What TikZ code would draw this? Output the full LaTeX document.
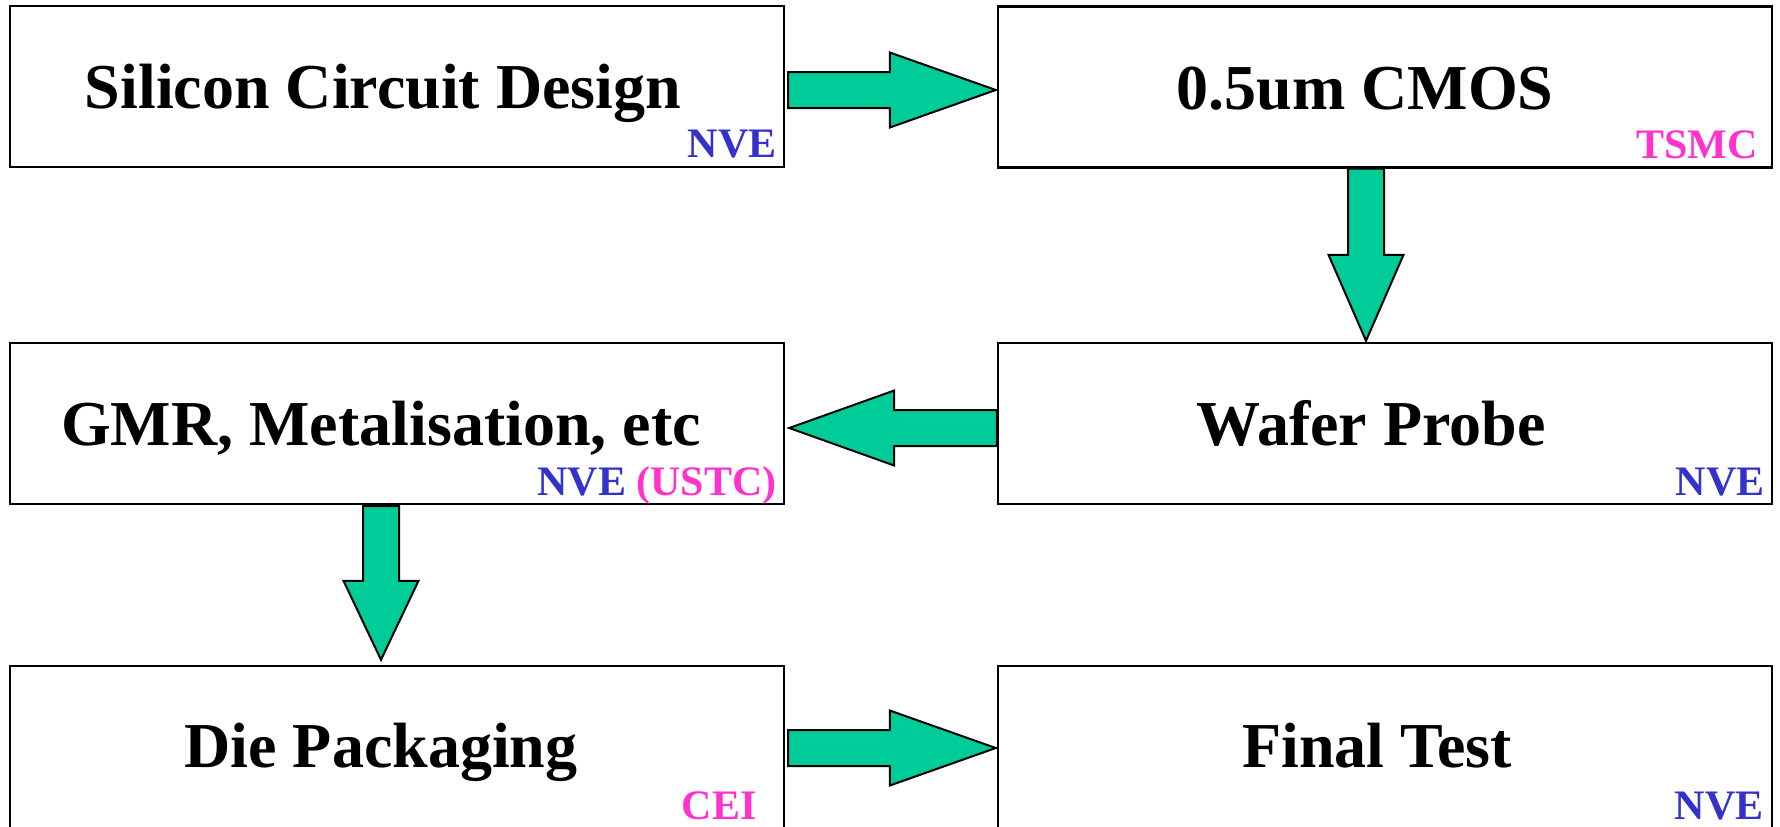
\documentclass[tikz,border=0pt]{standalone}
\usepackage{fontspec}
\setmainfont{Liberation Serif}
\usetikzlibrary{calc}
\definecolor{nveblue}{RGB}{51,51,204}
\definecolor{partnerpink}{RGB}{255,51,204}
\definecolor{arrowgreen}{RGB}{0,204,153}
% block arrow: #1 start, #2 tip, #3 head length
\newcommand\blockarrow[3]{%
  \coordinate (hb) at ($(#2)!#3!(#1)$);
  \draw[barrow] ($(#1)!9pt!90:(#2)$) -- ($(hb)!9pt!90:(#2)$) -- ($(hb)!18.75pt!90:(#2)$)
    -- (#2) -- ($(hb)!18.75pt!-90:(#2)$) -- ($(hb)!9pt!-90:(#2)$) -- ($(#1)!9pt!-90:(#2)$) -- cycle;}
\begin{document}
\begin{tikzpicture}[x=0.5pt,y=-0.5pt,
  box/.style={draw, line width=1.2pt, minimum width=387pt, minimum height=80.5pt, inner sep=0pt, anchor=center},
  main/.style={font=\fontsize{32}{38}\selectfont\bfseries, anchor=base, inner sep=0pt},
  tag/.style={font=\fontsize{21}{25}\selectfont\bfseries, anchor=base east, inner sep=0pt},
  barrow/.style={draw=black, line width=1pt, fill=arrowgreen, line join=miter}]
\useasboundingbox (0,0) rectangle (1780,826);
% boxes
\node[box] (b1) at (397,86.5) {};
\node[box] (b2) at (1385,87) {};
\node[box] (b3) at (397,423.5) {};
\node[box] (b4) at (1385,423.5) {};
\node[box, minimum height=82pt] (b5) at (397,748) {};
\node[box, minimum height=82pt] (b6) at (1385,748) {};
% main texts
\node[main] (t1) at (383,108) {Silicon Circuit Design};
\node[main] (t2) at (1365,109) {0.5um CMOS};
\node[main] (t3) at (381,445) {GMR, Metalisation, etc};
\node[main] (t4) at (1371,445) {Wafer Probe};
\node[main] (t5) at (381,767) {Die Packaging};
\node[main] (t6) at (1377,767) {Final Test};
% tags
\node[tag, text=nveblue] (g1) at (777,157) {NVE};
\node[tag, text=partnerpink] (g2) at (1758,158) {TSMC};
\node[tag] (g3) at (777,495) {\textcolor{nveblue}{NVE} \textcolor{partnerpink}{(USTC)}};
\node[tag, text=nveblue] (g4) at (1765,495) {NVE};
\node[tag, text=partnerpink] (g5) at (757,819) {CEI};
\node[tag, text=nveblue] (g6) at (1764,819) {NVE};
% arrow ends
\coordinate (a1s) at ($(b1.east)+(3,3.5)$);
\coordinate (a1e) at ($(b2.west)+(-1,3)$);
\coordinate (a2s) at ($(b2.south)+(-19,0)$);
\coordinate (a2e) at ($(b4.north)+(-19,-1)$);
\coordinate (a3s) at ($(b4.west)+(0,4.5)$);
\coordinate (a3e) at ($(b3.east)+(4,4.5)$);
\coordinate (a4s) at ($(b3.south)+(-16,1)$);
\coordinate (a4e) at ($(b5.north)+(-16,-5)$);
\coordinate (a5s) at ($(b5.east)+(3,0)$);
\coordinate (a5e) at ($(b6.west)+(-1,0)$);
% arrows
\blockarrow{a1s}{a1e}{53pt}
\blockarrow{a2s}{a2e}{43pt}
\blockarrow{a3s}{a3e}{52.5pt}
\blockarrow{a4s}{a4e}{39.5pt}
\blockarrow{a5s}{a5e}{53pt}
\end{tikzpicture}
\end{document}
